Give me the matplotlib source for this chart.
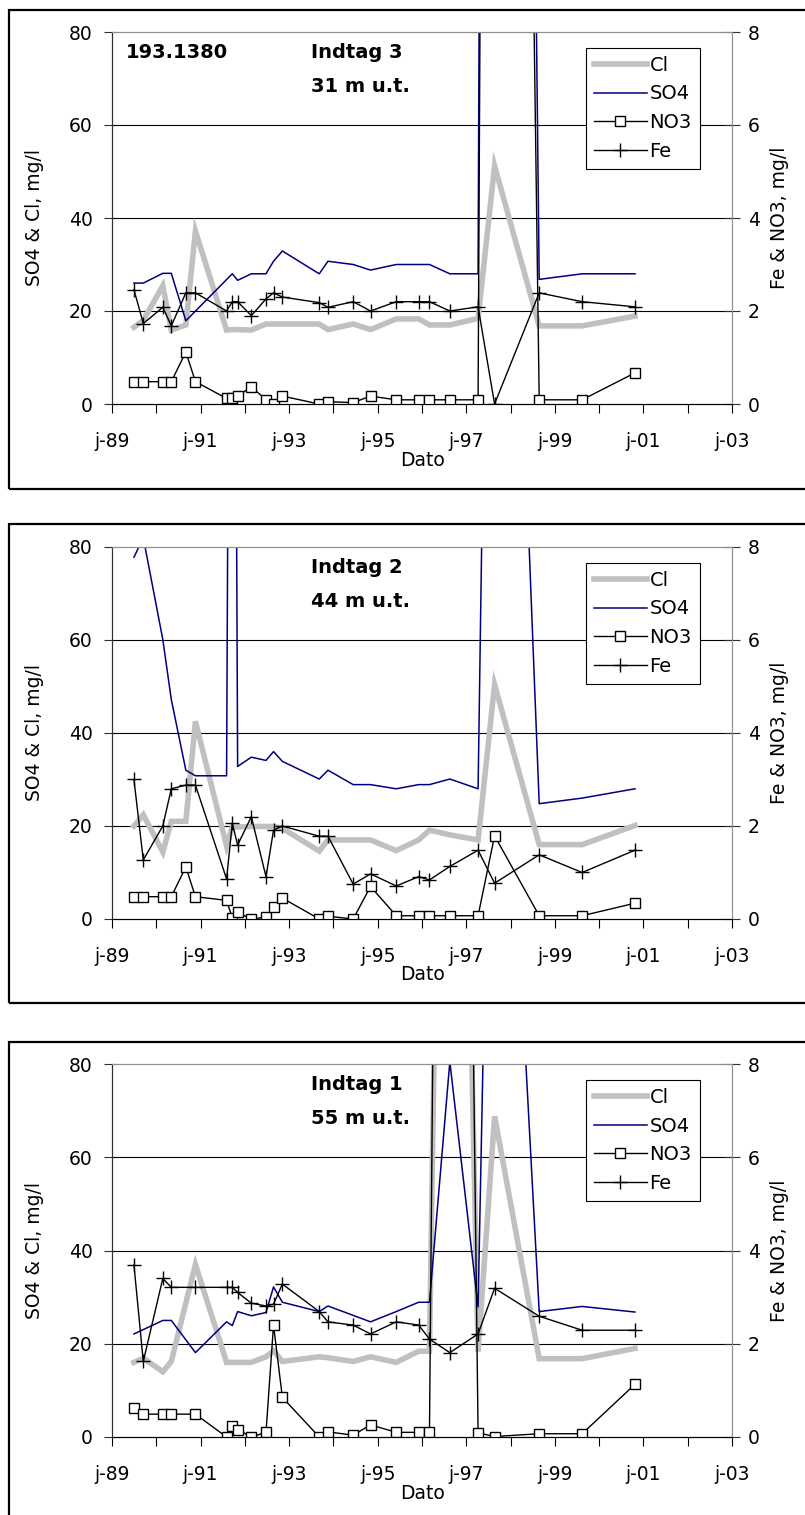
import numpy as np
import pandas as pd
import matplotlib
matplotlib.use("Agg")
import matplotlib.pyplot as plt
from matplotlib.patches import Rectangle
from matplotlib.ticker import FuncFormatter
import matplotlib.dates as mdates

plt.rcParams['font.family'] = ['DejaVu Sans']

nan = np.nan

# Prøvetagningsdatoer (fælles for de tre indtag)
datoer = pd.to_datetime([
    "1989-07-01", "1989-09-16", "1990-02-24", "1990-05-05", "1990-09-02",
    "1990-11-20", "1991-08-04", "1991-09-20", "1991-11-03", "1992-02-24",
    "1992-06-24", "1992-08-25", "1992-11-06", "1993-09-06", "1993-11-17",
    "1994-06-13", "1994-11-03", "1995-06-03", "1995-12-05", "1996-03-03",
    "1996-08-18", "1997-04-08", "1997-08-22", "1998-08-25", "1999-08-14",
    "2000-10-23"])

# Indtag 3, 31 m u.t.
cl_3 = [16.5, 18.0, 25.4, 15.9, 17.0, 37.2, 15.9, 16.0, 16.0, 15.9, 17.2, 17.2, 17.2,
        17.2, 16.0, 17.2, 16.0, 18.3, 18.3, 17.0, 17.0, 18.4, 51.2, 16.8, 16.8, 18.9]
so4_3 = [26.0, 26.0, 28.1, 28.1, 17.9, nan, nan, 28.0, 26.6, 28.0, 28.0, 30.7, 32.9,
         28.0, 30.7, 30.0, 28.8, 30.0, 30.0, 30.0, 28.0, 28.0, 900.0, 26.8, 28.0, 28.0]
no3_3 = [0.48, 0.48, 0.48, 0.48, 1.12, 0.48, 0.12, 0.12, 0.17, 0.37, 0.09, 0.01, 0.17,
         0.0, 0.05, 0.03, 0.17, 0.09, 0.09, 0.09, 0.09, 0.09, 70.0, 0.09, 0.09, 0.67]
fe_3 = [2.46, 1.73, 2.08, 1.68, 2.39, 2.39, 2.0, 2.2, 2.2, 1.9, 2.26, 2.39, 2.3,
        2.18, 2.08, 2.2, 2.0, 2.2, 2.2, 2.2, 2.0, 2.09, 0.0, 2.39, 2.2, 2.09]

# Indtag 2, 44 m u.t.
cl_2 = [20.0, 22.4, 14.4, 21.0, 21.0, 42.5, 15.7, 19.8, 19.8, 19.9, 19.9, 19.9, 19.5,
        14.6, 17.0, 17.0, 17.0, 14.7, 17.0, 19.1, 18.1, 17.0, 50.4, 16.0, 16.0, 20.1]
so4_2 = [77.8, 82.0, 60.1, 47.2, 32.0, 30.8, 30.8, 300.0, 32.8, 34.8, 34.1, 36.0, 33.9,
         30.1, 32.0, 28.9, 28.9, 28.0, 28.9, 28.9, 30.1, 28.0, 270.0, 24.8, 26.0, 28.0]
no3_2 = [0.48, 0.48, 0.48, 0.48, 1.12, 0.48, 0.40, 0.02, 0.14, 0.0, 0.04, 0.26, 0.45,
         0.0, 0.06, 0.0, 0.70, 0.07, 0.07, 0.07, 0.07, 0.07, 1.79, 0.07, 0.07, 0.34]
fe_2 = [3.0, 1.27, 2.0, 2.8, 2.88, 2.88, 0.86, 2.06, 1.59, 2.2, 0.91, 1.91, 2.0,
        1.78, 1.78, 0.75, 0.97, 0.71, 0.91, 0.84, 1.13, 1.48, 0.77, 1.38, 1.0, 1.48]

# Indtag 1, 55 m u.t.
cl_1 = [16.0, 16.9, 14.0, 16.2, nan, 37.0, 16.0, 16.0, 16.0, 16.0, 17.2, 18.5, 16.2,
        17.2, 17.0, 16.2, 17.2, 16.0, 18.4, 18.4, 300.0, 18.3, 68.8, 16.8, 16.8, 19.0]
so4_1 = [22.1, nan, 25.0, 25.0, nan, 18.1, 24.7, 23.9, 26.9, 26.0, 26.7, 32.2, 28.9,
         26.9, 28.1, nan, 24.7, 26.9, 28.9, 28.9, 80.5, 27.9, 205.0, 26.9, 28.0, 26.8]
no3_1 = [0.62, 0.49, 0.49, 0.49, nan, 0.49, 0.0, 0.24, 0.16, 0.0, 0.1, 2.4, 0.85,
         0.0, 0.11, 0.04, 0.26, 0.1, 0.1, 0.1, 50.0, 0.09, 0.01, 0.07, 0.07, 1.13]
fe_1 = [3.69, 1.62, 3.4, 3.21, nan, 3.21, 3.21, 3.21, 3.1, 2.87, 2.81, 2.85, 3.28,
        2.69, 2.47, 2.4, 2.21, 2.47, 2.4, 2.1, 1.81, 2.21, 3.19, 2.59, 2.29, 2.29]

paneler = [
    ("Indtag 3", "31 m u.t.", "193.1380", cl_3, so4_3, no3_3, fe_3),
    ("Indtag 2", "44 m u.t.", None, cl_2, so4_2, no3_2, fe_2),
    ("Indtag 1", "55 m u.t.", None, cl_1, so4_1, no3_1, fe_1),
]

W, H = 805, 1515
fig = plt.figure(figsize=(W / 100, H / 100), dpi=100)

# placering i pixels: (top af plot, bund af plot, top af ramme, bund af ramme)
layout = [(32, 404, 10, 489), (547, 919, 524, 1003), (1064, 1437, 1042, 1530)]
x0, x1 = 112, 732


def serie(ax, y, **kw):
    y = np.asarray(y, dtype=float)
    m = ~np.isnan(y)
    return ax.plot(datoer[m], y[m], **kw)[0]


def aar_fmt(x, pos):
    d = mdates.num2date(x)
    return "j-%02d" % (d.year % 100) if d.year % 2 == 1 else ""


for (titel, dybde, boring, cl, so4, no3, fe), (pt, pb, ft, fb) in zip(paneler, layout):
    # ramme om hvert diagram
    fig.add_artist(Rectangle((9 / W, 1 - fb / H), 1.0, (fb - ft) / H,
                             transform=fig.transFigure, fill=False,
                             edgecolor="black", linewidth=1.6))

    ax = fig.add_axes([x0 / W, 1 - pb / H, (x1 - x0) / W, (pb - pt) / H])
    ax2 = ax.twinx()

    l_cl = serie(ax, cl, color="#c0c0c0", lw=4.0, solid_joinstyle="miter", label="Cl")
    l_so4 = serie(ax, so4, color="#000080", lw=1.1, label="SO4")
    l_no3 = serie(ax2, no3, color="black", lw=1.0, marker="s", ms=7,
                  mfc="white", mec="black", mew=1.0, label="NO3")
    l_fe = serie(ax2, fe, color="black", lw=1.0, marker="+", ms=10, mew=1.0, label="Fe")

    ax.set_xlim(pd.Timestamp("1989-01-01"), pd.Timestamp("2003-01-01"))
    ax.set_ylim(0, 80)
    ax2.set_ylim(0, 8)
    ax.set_yticks([0, 20, 40, 60, 80])
    ax2.set_yticks([0, 2, 4, 6, 8])
    ax.xaxis.set_major_locator(mdates.YearLocator(1))
    ax.xaxis.set_major_formatter(FuncFormatter(aar_fmt))

    ax.grid(axis="y", color="black", lw=0.8)
    ax.get_ygridlines()[-1].set_visible(False)
    ax.get_ygridlines()[0].set_visible(False)
    ax.set_axisbelow(True)

    for a in (ax, ax2):
        a.spines["top"].set_color("#909090")
        a.spines["right"].set_color("#909090")
        a.spines["left"].set_color("#303030")
        a.spines["bottom"].set_color("black")
    ax.tick_params(axis="y", direction="out", length=6, width=0.8, pad=8,
                   labelsize=13.5, colors="#303030", labelcolor="black")
    ax.tick_params(axis="x", direction="out", length=6.5, width=0.8, pad=14,
                   labelsize=13.5)
    ax2.tick_params(axis="y", direction="inout", length=11, width=0.8, pad=6,
                    labelsize=13.5, colors="#303030", labelcolor="black")

    ax.set_ylabel("SO4 & Cl, mg/l", fontsize=13.5)
    ax.yaxis.set_label_coords(-0.11, 0.5)
    ax2.set_ylabel("Fe & NO3, mg/l", fontsize=13.5)
    ax2.yaxis.set_label_coords(1.061, 0.5)
    ax.set_xlabel("Dato", fontsize=13.5, va="top")
    ax.xaxis.set_label_coords(0.5, -0.125)

    # tekst i plotområdet
    ax.text(0.395, 0.945, titel, transform=ax.transAxes, ha="center", va="center",
            fontsize=14, fontweight="bold")
    ax.text(0.40, 0.853, dybde, transform=ax.transAxes, ha="center", va="center",
            fontsize=14, fontweight="bold")
    if boring:
        ax.text(0.022, 0.945, boring, transform=ax.transAxes, ha="left", va="center",
                fontsize=14, fontweight="bold")

    leg = ax2.legend(handles=[l_cl, l_so4, l_no3, l_fe], loc="upper left",
                     bbox_to_anchor=(0.765, 0.957), fontsize=14, numpoints=1,
                     handlelength=2.7, handletextpad=0.15, labelspacing=0.5,
                     borderpad=0.4, borderaxespad=0, fancybox=False,
                     framealpha=1, edgecolor="black")
    leg.get_frame().set_linewidth(0.8)

fig.savefig("out.png", dpi=100)
